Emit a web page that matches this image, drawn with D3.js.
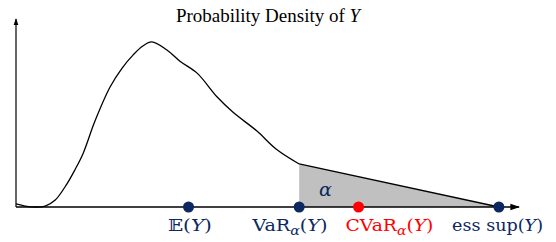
<!DOCTYPE html>
<html><head><meta charset="utf-8">
<script src="https://cdn.jsdelivr.net/npm/d3@7"></script>
<style>body{margin:0;background:#fff}</style>
</head><body>
<svg id="c" width="556" height="242"></svg>
<script>
// Density curve (smooth part) up to VaR
const curveX = [0, 0.18, 0.38, 0.58, 0.78, 1.01, 1.17, 1.33, 1.57, 1.87, 2.11, 2.33, 2.52, 2.70, 3.00, 3.26, 3.60, 4.00, 4.31, 4.79, 5.17, 5.63];
const curveY = [0.016, 0.005, 0, 0.005, 0.037, 0.122, 0.197, 0.282, 0.457, 0.638, 0.739, 0.809, 0.856, 0.878, 0.835, 0.775, 0.712, 0.585, 0.505, 0.404, 0.309, 0.229];
// Tail (linear) from VaR to ess sup
const tailX = [5.63, 9.60];
const tailY = [0.229, 0];
// Marked points on the axis
const markLabels = ["E", "VaR", "CVaR", "esssup"];
const markX = [3.43, 5.63, 6.81, 9.60];
// label placement (data units of left edge) and widths
const labelX = [3.02, 4.70, 6.55, 8.67];
const labelW = [44, 75, 88, 91];
const title = "Probability Density of ";

const svg = d3.select("#c");
const x = d3.scaleLinear().domain([0, 10]).range([16, 519]);
const y = d3.scaleLinear().domain([0, 1]).range([207, 19]);
const navy = "#0c2860", red = "#ff0000";

// shaded tail
const areaPts = tailX.map((v, i) => [v, tailY[i]]);
svg.append("path")
  .attr("d", d3.area().x(d => x(d[0])).y0(y(0)).y1(d => y(d[1]))(areaPts))
  .attr("fill", "#c0c0c0");

// axes
const defs = svg.append("defs");
defs.append("marker").attr("id", "arr").attr("viewBox", "0 0 10 10").attr("refX", 9).attr("refY", 5)
  .attr("markerWidth", 6).attr("markerHeight", 6).attr("orient", "auto")
  .append("path").attr("d", "M0,1.5L10,5L0,8.5z").attr("fill", "#000");
svg.append("line").attr("x1", x(0)).attr("y1", y(0)).attr("x2", x(0)).attr("y2", y(1))
  .attr("stroke", "#000").attr("stroke-width", 1.2).attr("marker-end", "url(#arr)");
svg.append("line").attr("x1", x(0)).attr("y1", y(0)).attr("x2", x(10)).attr("y2", y(0))
  .attr("stroke", "#000").attr("stroke-width", 1.6).attr("marker-end", "url(#arr)");

// density curve
const pts = curveX.map((v, i) => [v, curveY[i]]);
svg.append("path")
  .attr("d", d3.line().x(d => x(d[0])).y(d => y(d[1])).curve(d3.curveCatmullRom)(pts))
  .attr("fill", "none").attr("stroke", "#000").attr("stroke-width", 1.3);
svg.append("path")
  .attr("d", d3.line().x(d => x(d[0])).y(d => y(d[1]))(areaPts))
  .attr("fill", "none").attr("stroke", "#000").attr("stroke-width", 1.3);

// alpha label
svg.append("text").attr("x", x(6.15)).attr("y", y(0.06)).attr("fill", navy)
  .attr("font-family", "DejaVu Serif").attr("font-style", "italic").attr("font-size", 19)
  .attr("text-anchor", "middle").text("α");

// title
const t = svg.append("text").attr("x", 268).attr("y", 22).attr("text-anchor", "middle")
  .attr("font-family", "Liberation Serif").attr("font-size", 19).attr("fill", "#000");
t.append("tspan").text(title);
t.append("tspan").attr("font-style", "italic").text("Y");

// dots
const colors = [navy, navy, red, navy];
markX.forEach((v, i) => {
  svg.append("circle").attr("cx", x(v)).attr("cy", y(0)).attr("r", 5.5).attr("fill", colors[i]);
});

// labels
function label(i, parts) {
  const tx = svg.append("text").attr("x", x(labelX[i])).attr("y", 231).attr("text-anchor", "start")
    .attr("font-family", "DejaVu Serif").attr("font-size", 17.5).attr("fill", colors[i])
    .attr("textLength", labelW[i]).attr("lengthAdjust", "spacingAndGlyphs");
  parts.forEach(p => {
    const s = tx.append("tspan").text(p.t);
    if (p.it) s.attr("font-style", "italic");
    if (p.sub) s.attr("font-size", 13).attr("baseline-shift", "-4");
  });
}
label(0, [{t: "𝔼("}, {t: "Y", it: true}, {t: ")"}]);
label(1, [{t: "VaR"}, {t: "α", it: true, sub: true}, {t: "("}, {t: "Y", it: true}, {t: ")"}]);
label(2, [{t: "CVaR"}, {t: "α", it: true, sub: true}, {t: "("}, {t: "Y", it: true}, {t: ")"}]);
label(3, [{t: "ess sup("}, {t: "Y", it: true}, {t: ")"}]);
</script>
</body></html>
